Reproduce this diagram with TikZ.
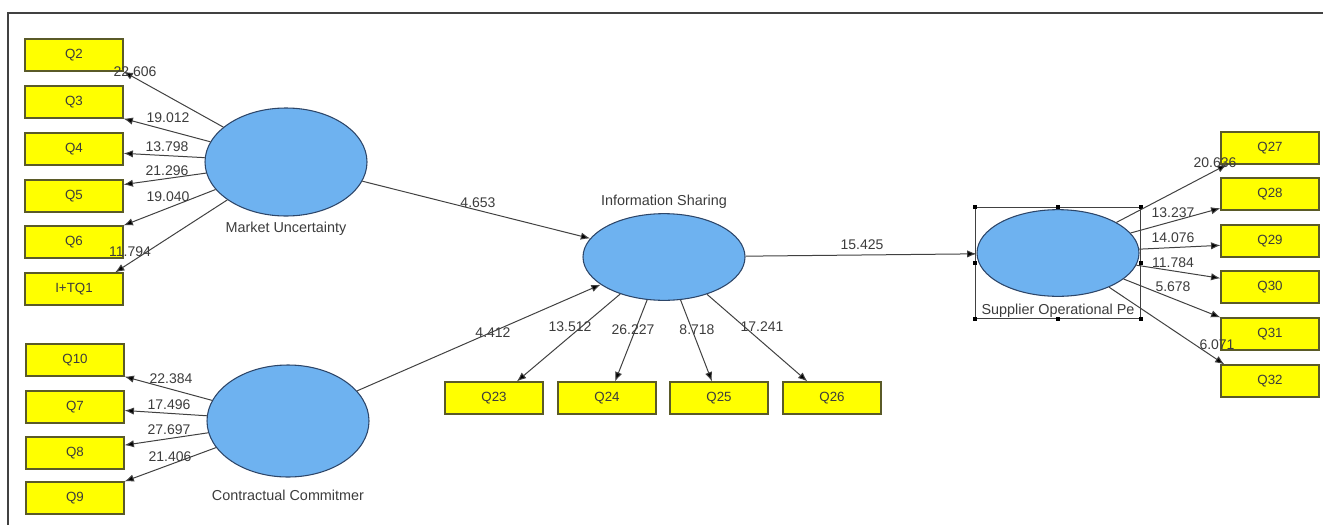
\documentclass[tikz,border=0pt]{standalone}
\usepackage{fontspec}
\setmainfont{Liberation Sans}
\usetikzlibrary{arrows.meta,positioning,shapes.geometric,fit}

\definecolor{lvfill}{RGB}{110,178,240}
\definecolor{lvline}{RGB}{45,70,105}
\definecolor{mvfill}{RGB}{255,255,0}
\definecolor{mvline}{RGB}{90,90,40}
\definecolor{pathgray}{RGB}{65,65,65}
\definecolor{txtgray}{RGB}{60,60,60}

\begin{document}
\begin{tikzpicture}[x=0.75pt, y=-0.75pt,
  latent/.style={draw=lvline, fill=lvfill, ellipse, line width=0.8pt, minimum width=121.5pt, minimum height=65pt, inner sep=0pt},
  item/.style={draw=mvline, fill=mvfill, line width=0.9pt, minimum width=73.5pt, minimum height=24pt, inner sep=0pt, text=txtgray, font=\fontsize{10}{12}\selectfont},
  lvname/.style={inner sep=0pt, text=txtgray, font=\fontsize{10.8}{13}\selectfont},
  num/.style={inner sep=0pt, text=txtgray, font=\fontsize{10.5}{12}\selectfont},
  arr/.style={-{Latex[length=7pt,width=5.5pt,fill=black]}, draw=pathgray, line width=0.75pt},
  selbox/.style={draw=pathgray, line width=0.6pt, inner sep=1pt}
]
\useasboundingbox (0,0) rectangle (1323,525);
\draw[pathgray, line width=1.2pt] (1323,13) -- (8,13) -- (8,525);

% indicators
\node[item] (q2) at (74,55) {Q2};
\node[item] (q3) at (74,102) {Q3};
\node[item] (q4) at (74,149) {Q4};
\node[item] (q5) at (74,196) {Q5};
\node[item] (q6) at (74,242) {Q6};
\node[item] (itq1) at (74,289) {I+TQ1};
\node[item] (q10) at (75,360) {Q10};
\node[item] (q7) at (75,407) {Q7};
\node[item] (q8) at (75,453) {Q8};
\node[item] (q9) at (75,498) {Q9};
\node[item] (q23) at (494,398) {Q23};
\node[item] (q24) at (607,398) {Q24};
\node[item] (q25) at (719,398) {Q25};
\node[item] (q26) at (832,398) {Q26};
\node[item] (q27) at (1270,148) {Q27};
\node[item] (q28) at (1270,194) {Q28};
\node[item] (q29) at (1270,241) {Q29};
\node[item] (q30) at (1270,287) {Q30};
\node[item] (q31) at (1270,334) {Q31};
\node[item] (q32) at (1270,381) {Q32};

% latent variables
\node[latent, minimum height=81pt] (mu) at (286,162) {};
\node[latent, minimum height=84pt] (cc) at (288,421) {};
\node[latent] (is) at (664,257) {};
\node[latent] (sop) at (1058,253) {};
\node[lvname, below=4pt of mu] (mulbl) {Market Uncertainty};
\node[lvname, below=9pt of cc] (cclbl) {Contractual Commitmer};
\node[lvname, above=3.5pt of is] (islbl) {Information Sharing};
\node[lvname, below=5pt of sop] (soplbl) {Supplier Operational Pe};

% selection frame
\node[selbox, fit=(sop)(soplbl)] (sel) {};
\foreach \a in {north west,north,north east,west,east,south west,south,south east}
  \fill[black] (sel.\a) ++(-2,-2) rectangle ++(4,4);

% outer model
\draw[arr] (mu) -- (q2.south east) node[num] at (135,72) {22.606};
\draw[arr] (mu) -- (q3.south east) node[num] at (168,118) {19.012};
\draw[arr] (mu) -- (q4.-5) node[num] at (167,147) {13.798};
\draw[arr] (mu) -- (q5.13) node[num] at (167,171) {21.296};
\draw[arr] (mu) -- (q6.north east) node[num] at (168,197) {19.040};
\draw[arr] (mu) -- (itq1.22) node[num] at (130,252) {11.794};
\draw[arr] (cc) -- (q10.south east) node[num] at (171,379) {22.384};
\draw[arr] (cc) -- (q7.-4) node[num] at (169,405) {17.496};
\draw[arr] (cc) -- (q8.9) node[num] at (169,430) {27.697};
\draw[arr] (cc) -- (q9.north east) node[num] at (170,457) {21.406};
\draw[arr] (is) -- (q23.36) node[num] at (570,327) {13.512};
\draw[arr] (is) -- (q24.64) node[num] at (633,330) {26.227};
\draw[arr] (is) -- (q25.113) node[num] at (697,330) {8.718};
\draw[arr] (is) -- (q26.146) node[num] at (762,327) {17.241};
\draw[arr] (sop) -- (q27.201) node[num] at (1215,163) {20.636};
\draw[arr] (sop) -- (q28.196) node[num] at (1173,213) {13.237};
\draw[arr] (sop) -- (q29.185) node[num] at (1173,238) {14.076};
\draw[arr] (sop) -- (q30.170) node[num] at (1173,263) {11.784};
\draw[arr] (sop) -- (q31.north west) node[num] at (1173,287) {5.678};
\draw[arr] (sop) -- (q32.160) node[num] at (1217,345) {6.071};

% inner model
\draw[arr] (mu) -- (is) node[num] at (478,203) {4.653};
\draw[arr] (cc) -- (is) node[num] at (493,333) {4.412};
\draw[arr] (is) -- (sop) node[num] at (862,245) {15.425};
\end{tikzpicture}
\end{document}
